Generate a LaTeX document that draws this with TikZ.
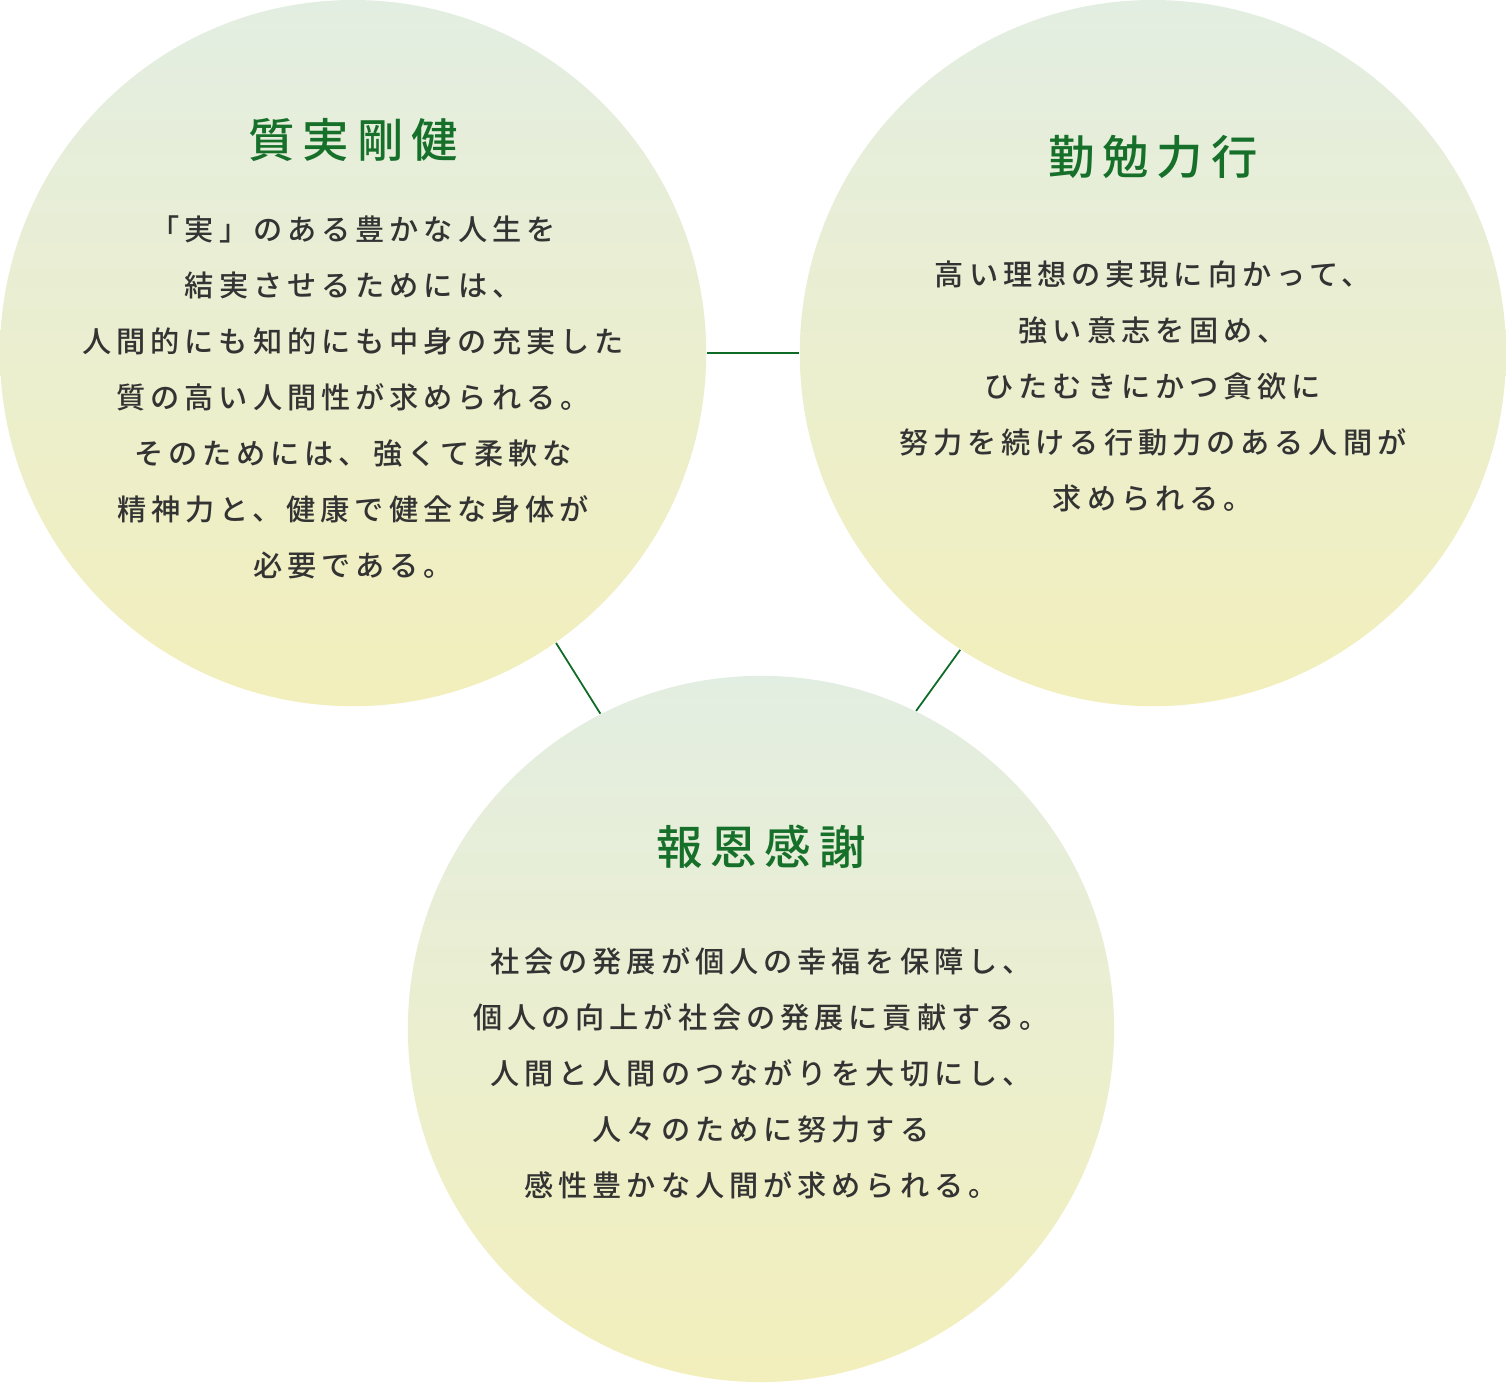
\documentclass[tikz,border=0pt]{standalone}
\usepackage{fontspec}
\newfontfamily\jpbody[UprightFont=* Medium,LetterSpace=17]{Noto Sans CJK JP}
\newfontfamily\jptitle[UprightFont=* Medium,LetterSpace=17]{Noto Sans CJK JP}
\definecolor{topgreen}{RGB}{227,238,226}
\definecolor{bottomyellow}{RGB}{243,239,188}
\definecolor{titlegreen}{RGB}{22,112,42}
\definecolor{linegreen}{RGB}{14,107,37}
\definecolor{bodygray}{RGB}{51,51,51}
\begin{document}
\begin{tikzpicture}[x=0.01cm,y=-0.01cm,
    ball/.style={circle,minimum size=7.06cm,inner sep=0pt,
      top color=topgreen,bottom color=bottomyellow},
    heading/.style={text=titlegreen,font={\jptitle\fontsize{13.2pt}{16pt}\selectfont}},
    body/.style={text=bodygray,align=center,
      font={\jpbody\fontsize{8.3pt}{15.93pt}\selectfont}}]
      \fill[white] (0,0) rectangle (1506,1382);
      \draw
        (353,353) node[ball] (shitsu){}
        (1153,353) node[ball] (kinben){}
        (761,1029) node[ball] (hoon){};
      \draw
        (353,140) node[heading] (shitsuT){質実剛健}
        (1153,157) node[heading] (kinbenT){勤勉力行}
        (761,847) node[heading] (hoonT){報恩感謝};
      \draw
        (353,397) node[body] (shitsuB){「実」のある豊かな人生を\\結実させるためには、\\人間的にも知的にも中身の充実した\\質の高い人間性が求められる。\\そのためには、強くて柔軟な\\精神力と、健康で健全な身体が\\必要である。}
        (1153,386) node[body] (kinbenB){高い理想の実現に向かって、\\強い意志を固め、\\ひたむきにかつ貪欲に\\努力を続ける行動力のある人間が\\求められる。}
        (761,1073) node[body] (hoonB){社会の発展が個人の幸福を保障し、\\個人の向上が社会の発展に貢献する。\\人間と人間のつながりを大切にし、\\人々のために努力する\\感性豊かな人間が求められる。};
      \begin{scope}[-,draw=linegreen,line width=0.5pt]
        \draw (shitsu.east) to (kinben.west);
        \draw (shitsu.-55) to (hoon.117);
        \draw (kinben.-123) to (hoon.64);
      \end{scope}
    \end{tikzpicture}
\end{document}
